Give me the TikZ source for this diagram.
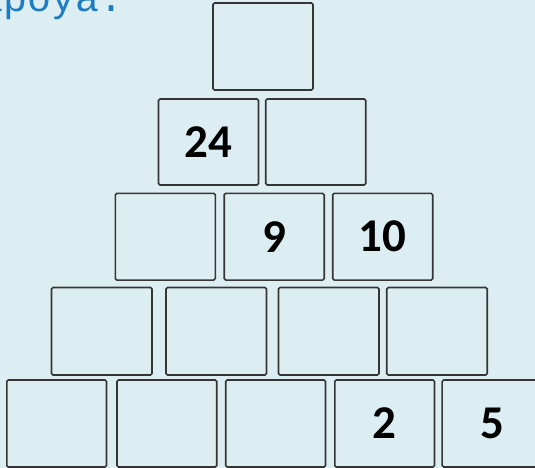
\documentclass[tikz,border=0pt]{standalone}
\usepackage{fontspec}
\setmainfont{Carlito}
\newfontfamily\titlefont{Liberation Mono}
\definecolor{bg}{HTML}{DCEEF1}
\definecolor{edge}{HTML}{353535}
\definecolor{titleblue}{HTML}{1C7CC6}
\begin{document}
\begin{tikzpicture}[x=1pt,y=-1pt,
  cell/.style={draw=edge, line width=1.6pt, rounded corners=1.5pt, fill=bg,
    inner sep=0pt, text=black, font=\fontsize{47}{47}\selectfont\bfseries},
  row1/.style={cell, minimum width=100pt, minimum height=87pt},
  row2/.style={cell, minimum width=100pt, minimum height=86pt},
  row3/.style={cell, minimum width=100pt, minimum height=86.7pt},
  row4/.style={cell, minimum width=100.5pt, minimum height=87.5pt},
  row5/.style={cell, minimum width=99.7pt, minimum height=87pt},
  titletext/.style={anchor=base west, inner sep=0pt, text=titleblue, font=\titlefont\fontsize{40}{40}\selectfont}
]
\useasboundingbox (0,0) rectangle (535,468);
\clip (0,0) rectangle (535,468);
\fill[bg] (0,0) rectangle (535,468);
\node[titletext] (title) at (-21,12) {apoya.};
% row 1
\node[row1] (r1a) at (263,46.5) {};
% row 2
\node[row2] (r2a) at (208.5,142) {24};
\node[row2] (r2b) at (315.7,142) {};
% row 3
\node[row3] (r3a) at (165.3,236.7) {};
\node[row3] (r3b) at (274.2,236.7) {9};
\node[row3] (r3c) at (382.7,236.7) {10};
% row 4
\node[row4] (r4a) at (101.75,331.25) {};
\node[row4] (r4b) at (216.25,331.25) {};
\node[row4] (r4c) at (328.75,331.25) {};
\node[row4] (r4d) at (437,331.25) {};
% row 5
\node[row5] (r5a) at (56.65,423.5) {};
\node[row5] (r5b) at (166.85,423.5) {};
\node[row5] (r5c) at (275.6,423.5) {};
\node[row5] (r5d) at (384.65,423.5) {2};
\node[row5] (r5e) at (492,423.5) {5};
\end{tikzpicture}
\end{document}
